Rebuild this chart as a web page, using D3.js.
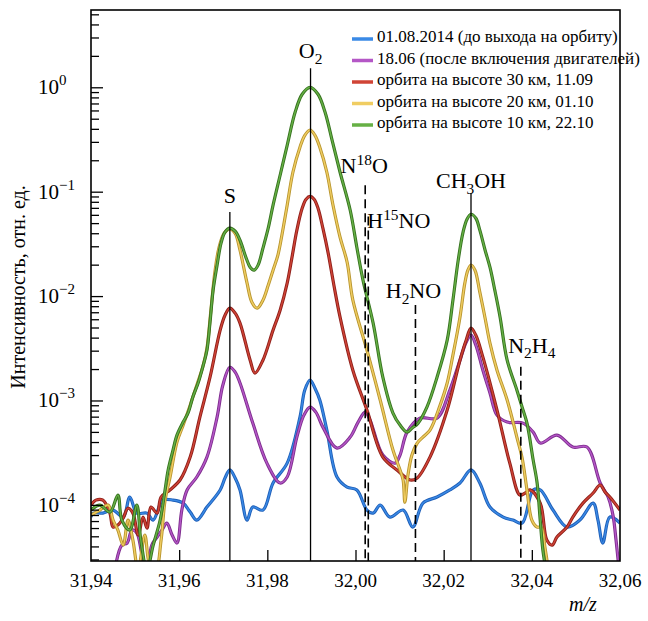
<!DOCTYPE html>
<html>
<head>
<meta charset="UTF-8">
<script src="https://cdn.jsdelivr.net/npm/d3@7"></script>
<style>
  body { margin: 0; background: #fff; }
</style>
</head>
<body>
<div id="chart"></div>
<script>
// spectra: [m/z, intensity]
var blue = [[31.9400,7.64e-5],[31.9405,8.34e-5],[31.9427,8.34e-5],[31.9450,8.92e-5],[31.9473,7.64e-5],[31.9488,1.19e-4],[31.9504,8.34e-5],[31.9527,8.34e-5],[31.9541,7.15e-5],[31.9563,1.11e-4],[31.9586,1.11e-4],[31.9609,1.04e-4],[31.9625,8.53e-5],[31.9640,7.15e-5],[31.9663,9.53e-5],[31.9693,1.39e-4],[31.9704,1.81e-4],[31.9715,2.16e-4],[31.9727,1.81e-4],[31.9738,1.39e-4],[31.9754,7.15e-5],[31.9767,9.53e-5],[31.9790,8.92e-5],[31.9813,1.62e-4],[31.9845,2.51e-4],[31.9874,6.93e-4],[31.9885,1.26e-3],[31.9897,1.57e-3],[31.9908,1.31e-3],[31.9919,1.01e-3],[31.9935,5.2e-4],[31.9958,1.85e-4],[31.9981,1.48e-4],[32.0003,1.39e-4],[32.0026,8.92e-5],[32.0040,8.34e-5],[32.0056,9.96e-5],[32.0078,7.64e-5],[32.0108,8.92e-5],[32.0130,6.13e-5],[32.0153,1.04e-4],[32.0185,1.19e-4],[32.0214,1.39e-4],[32.0237,1.62e-4],[32.0262,2.16e-4],[32.0282,1.62e-4],[32.0305,9.53e-5],[32.0335,7.64e-5],[32.0357,7.15e-5],[32.0378,6.69e-5],[32.0403,1.39e-4],[32.0419,1.39e-4],[32.0448,8.92e-5],[32.0480,6.13e-5],[32.0509,7.15e-5],[32.0539,1.04e-4],[32.0550,7.15e-5],[32.0561,4.31e-5],[32.0577,7.64e-5],[32.0600,6.69e-5]];

var purple = [[31.9454,2.38e-5],[31.9470,4.12e-5],[31.9482,4.31e-5],[31.9493,5.74e-5],[31.9504,5.37e-5],[31.9516,3.31e-5],[31.9527,2.38e-5],[31.9538,4.12e-5],[31.9550,4.92e-5],[31.9561,5.74e-5],[31.9572,6.69e-5],[31.9584,5.14e-5],[31.9595,4.31e-5],[31.9606,8.92e-5],[31.9618,1.39e-4],[31.9640,1.85e-4],[31.9663,2.87e-4],[31.9686,6.93e-4],[31.9699,1.40e-3],[31.9715,2.08e-3],[31.9727,1.87e-3],[31.9738,1.47e-3],[31.9767,6.07e-4],[31.9799,2.51e-4],[31.9829,1.62e-4],[31.9845,1.85e-4],[31.9867,4.46e-4],[31.9883,7.24e-4],[31.9897,8.63e-4],[31.9910,7.73e-4],[31.9926,5.56e-4],[31.9958,3.50e-4],[31.9988,4.46e-4],[32.0006,6.21e-4],[32.0022,7.73e-4],[32.0033,6.49e-4],[32.0062,3.0e-4],[32.0090,2.51e-4],[32.0101,3.0e-4],[32.0117,4.98e-4],[32.0146,6.78e-4],[32.0185,6.78e-4],[32.0214,1.26e-3],[32.0237,2.43e-3],[32.0251,3.62e-3],[32.0262,4.22e-3],[32.0273,3.39e-3],[32.0289,1.95e-3],[32.0305,1.18e-3],[32.0321,7.24e-4],[32.0344,6.21e-4],[32.0380,6.07e-4],[32.0403,4.98e-4],[32.0419,3.91e-4],[32.0457,4.66e-4],[32.0493,3.58e-4],[32.0525,3.58e-4],[32.0555,1.62e-4],[32.0573,1.19e-4],[32.0584,7.98e-5],[32.0591,4.6e-5],[32.0598,2.38e-5]];

var red = [[31.9400,9.96e-5],[31.9411,1.11e-4],[31.9427,1.11e-4],[31.9443,8.34e-5],[31.9450,6.13e-5],[31.9461,6.41e-5],[31.9473,7.48e-5],[31.9484,9.31e-5],[31.9495,8.34e-5],[31.9507,5.14e-5],[31.9518,7.64e-5],[31.9527,6.0e-5],[31.9536,9.53e-5],[31.9550,8.34e-5],[31.9559,1.19e-4],[31.9579,1.39e-4],[31.9602,1.73e-4],[31.9625,2.87e-4],[31.9647,6.93e-4],[31.9670,1.67e-3],[31.9693,4.72e-3],[31.9704,6.56e-3],[31.9715,7.66e-3],[31.9727,6.86e-3],[31.9738,5.51e-3],[31.9761,2.43e-3],[31.9772,1.83e-3],[31.9790,2.43e-3],[31.9813,4.72e-3],[31.9829,7.33e-3],[31.9845,0.0133],[31.9856,0.0236],[31.9867,0.0428],[31.9879,0.0694],[31.9888,0.0847],[31.9897,0.090],[31.9906,0.0847],[31.9915,0.0694],[31.9926,0.0447],[31.9938,0.0258],[31.9951,0.0127],[31.9965,6.28e-3],[31.9994,1.95e-3],[32.0026,8.09e-4],[32.0062,2.87e-4],[32.0094,2.16e-4],[32.0124,1.73e-4],[32.0140,1.81e-4],[32.0169,2.87e-4],[32.0208,8.09e-4],[32.0237,2.43e-3],[32.0251,3.78e-3],[32.0262,4.93e-3],[32.0273,4.22e-3],[32.0289,2.60e-3],[32.0321,8.09e-4],[32.0350,2.51e-4],[32.0373,1.24e-4],[32.0385,1.30e-4],[32.0396,1.39e-4],[32.0419,1.04e-4],[32.0434,4.6e-5],[32.0446,4.12e-5],[32.0457,4.92e-5],[32.0480,6.13e-5],[32.0493,7.64e-5],[32.0516,1.04e-4],[32.0539,1.30e-4],[32.0555,1.55e-4],[32.0566,1.33e-4],[32.0577,1.19e-4],[32.0600,8.92e-5]];

var yellow = [[31.9400,7.98e-5],[31.9420,8.92e-5],[31.9439,9.96e-5],[31.9450,7.15e-5],[31.9461,5.74e-5],[31.9473,4.12e-5],[31.9484,7.15e-5],[31.9495,4.6e-5],[31.9507,2.38e-5],[31.9522,5.14e-5],[31.9534,2.6e-5],[31.9547,2.38e-5],[31.9559,4.6e-5],[31.9568,1.11e-4],[31.9579,1.81e-4],[31.9595,3.99e-4],[31.9609,5.81e-4],[31.9625,9.02e-4],[31.9640,1.40e-3],[31.9654,2.13e-3],[31.9663,3.17e-3],[31.9672,7.33e-3],[31.9681,0.0169],[31.9690,0.0287],[31.9702,0.040],[31.9715,0.0437],[31.9727,0.040],[31.9738,0.0275],[31.9754,0.0133],[31.9765,8.74e-3],[31.9777,7.66e-3],[31.9790,9.14e-3],[31.9802,0.0127],[31.9813,0.0177],[31.9824,0.0247],[31.9833,0.0383],[31.9845,0.0742],[31.9858,0.1535],[31.9874,0.267],[31.9885,0.347],[31.9897,0.39],[31.9908,0.347],[31.9919,0.267],[31.9935,0.1535],[31.9949,0.0742],[31.9965,0.0366],[31.9981,0.0211],[31.9994,9.14e-3],[32.0026,3.03e-3],[32.0056,1.01e-3],[32.0085,3.35e-4],[32.0101,2.16e-4],[32.0108,1.73e-4],[32.0112,1.06e-4],[32.0119,1.93e-4],[32.0128,3.0e-4],[32.0140,3.91e-4],[32.0153,4.46e-4],[32.0169,5.2e-4],[32.0192,9.02e-4],[32.0208,1.47e-3],[32.0221,2.72e-3],[32.0237,6.28e-3],[32.0248,0.0133],[32.0255,0.0177],[32.0262,0.0198],[32.0271,0.0177],[32.0282,0.0109],[32.0294,6.14e-3],[32.0305,3.54e-3],[32.0321,1.95e-3],[32.0344,1.01e-3],[32.0366,4.46e-4],[32.0378,2.81e-4],[32.0389,1.39e-4],[32.0400,7.15e-5],[32.0412,6.13e-5],[32.0421,6.13e-5],[32.0430,3.86e-5],[32.0439,2.13e-5]];

var green = [[31.9400,8.92e-5],[31.9420,9.96e-5],[31.9443,8.53e-5],[31.9461,1.24e-4],[31.9470,7.15e-5],[31.9488,5.74e-5],[31.9504,9.96e-5],[31.9513,4.6e-5],[31.9527,2.4e-5],[31.9541,4.1e-5],[31.9557,7.2e-5],[31.9568,1.39e-4],[31.9575,2.16e-4],[31.9586,3.35e-4],[31.9595,4.66e-4],[31.9609,6.21e-4],[31.9620,7.57e-4],[31.9631,1.08e-3],[31.9643,1.47e-3],[31.9654,2.13e-3],[31.9663,3.03e-3],[31.9670,5.62e-3],[31.9677,0.0114],[31.9686,0.0198],[31.9695,0.0321],[31.9704,0.041],[31.9715,0.0447],[31.9727,0.0418],[31.9738,0.0343],[31.9752,0.0231],[31.9761,0.0189],[31.9770,0.0177],[31.9779,0.0198],[31.9790,0.0287],[31.9802,0.0447],[31.9813,0.0742],[31.9829,0.1437],[31.9845,0.278],[31.9863,0.576],[31.9879,0.857],[31.9897,1.0],[31.9915,0.857],[31.9931,0.576],[31.9947,0.31],[31.9965,0.1535],[31.9988,0.0664],[32.0003,0.0294],[32.0017,0.0142],[32.0040,5.51e-3],[32.0062,1.67e-3],[32.0085,7.57e-4],[32.0101,5.81e-4],[32.0117,4.98e-4],[32.0128,5.43e-4],[32.0142,6.07e-4],[32.0162,8.63e-4],[32.0185,1.67e-3],[32.0208,3.78e-3],[32.0221,9.14e-3],[32.0233,0.0221],[32.0244,0.041],[32.0253,0.0545],[32.0262,0.0608],[32.0273,0.0557],[32.0282,0.0428],[32.0294,0.0275],[32.0305,0.0189],[32.0316,0.0114],[32.0328,6.28e-3],[32.0344,2.43e-3],[32.0366,1.26e-3],[32.0378,8.63e-4],[32.0389,6.07e-4],[32.0403,2.69e-4],[32.0412,1.62e-4],[32.0419,7.15e-5],[32.0425,3.69e-5],[32.0434,2.13e-5]];

var seriesNames = ["01.08.2014 (до выхода на орбиту)", "18.06 (после включения двигателей)",
  "орбита на высоте 30 км, 11.09", "орбита на высоте 20 км, 01.10", "орбита на высоте 10 км, 22.10"];

var xTicks = [31.94, 31.96, 31.98, 32.00, 32.02, 32.04, 32.06];
var yMajor = [1e-4, 1e-3, 1e-2, 1e-1, 1];

// line markers: [label parts, m/z, top of the line (intensity), dashed]
var markers = [
  [[["S",""]], 31.9715, 0.064, false],
  [[["O",""],["2","sub"]], 31.9898, 1.52, false],
  [[["N",""],["18","sup"],["O",""]], 32.0022, 0.115, true],
  [[["H",""],["15","sup"],["NO",""]], 32.0029, 0.058, true],
  [[["H",""],["2","sub"],["NO",""]], 32.0136, 0.0082, true],
  [[["CH",""],["3","sub"],["OH",""]], 32.0262, 0.097, false],
  [[["N",""],["2","sub"],["H",""],["4","sub"]], 32.0375, 0.0021, true]
];

var FONT = "'Liberation Serif', 'Times New Roman', 'DejaVu Serif', serif";
var W = 648, H = 621;
var x = d3.scaleLinear().domain([31.94, 32.06]).range([91, 620]);
var y = d3.scaleLog().domain([5.5, 2.9e-5]).range([10, 561]);

var svg = d3.select("#chart").append("svg").attr("width", W).attr("height", H)
  .attr("font-family", FONT);

svg.append("defs").append("clipPath").attr("id", "clip")
  .append("rect").attr("x", 91).attr("y", 10).attr("width", 529).attr("height", 551);

function txt(xp, yp, size) {
  return svg.append("text").attr("x", xp).attr("y", yp)
    .attr("font-family", FONT).attr("font-size", size);
}

// text with sub/superscripts
function rich(t, parts, size) {
  var shift = 0;
  parts.forEach(function(p) {
    var target = p[1] == "sub" ? size * 0.25 : (p[1] == "sup" ? -size * 0.4 : 0);
    var s = t.append("tspan").text(p[0]).attr("dy", target - shift);
    if (p[1]) s.attr("font-size", size * 0.7);
    shift = target;
  });
}

// curves
var line = d3.line()
  .x(function(d) { return x(d[0]); })
  .y(function(d) { return y(d[1]); })
  .curve(d3.curveCatmullRom.alpha(0.5));

var curves = [
  [blue, "#1f5fb8", "#3a8ae6"],
  [purple, "#7e2c8e", "#b457c6"],
  [red, "#8e1f1a", "#d04436"],
  [yellow, "#b8952e", "#f0cd62"],
  [green, "#36721f", "#66b045"]
];

var plot = svg.append("g").attr("clip-path", "url(#clip)");
curves.forEach(function(c) {
  plot.append("path").attr("d", line(c[0])).attr("fill", "none")
    .attr("stroke", c[1]).attr("stroke-width", 3.2).attr("stroke-linejoin", "round");
  plot.append("path").attr("d", line(c[0])).attr("fill", "none")
    .attr("stroke", c[2]).attr("stroke-width", 1.4).attr("stroke-linejoin", "round");
});

// marker lines and labels
markers.forEach(function(m) {
  var xm = x(m[1]);
  svg.append("line").attr("x1", xm).attr("x2", xm)
    .attr("y1", y(m[2])).attr("y2", 561)
    .attr("stroke", "#000").attr("stroke-width", m[3] ? 1.6 : 1.3)
    .attr("stroke-dasharray", m[3] ? "9,5" : null);
});

var labelPos = [[0, -9, "middle"], [0, -10, "middle"], [-1, -12, "middle"], [-1, 12, "start"],
  [-2, -7, "middle"], [0, -5, "middle"], [11, -14, "middle"]];
markers.forEach(function(m, i) {
  var lp = labelPos[i];
  var t = txt(x(m[1]) + lp[0], y(m[2]) + lp[1], 22).attr("text-anchor", lp[2]);
  rich(t, m[0], 22);
});

// x axis, ticks pointing inward
var xAxis = d3.axisBottom(x).tickValues(xTicks.slice(1, 6)).tickSizeInner(-11).tickSizeOuter(0)
  .tickFormat(function() { return ""; });
svg.append("g").attr("transform", "translate(0,561)").call(xAxis)
  .call(function(g) { g.select(".domain").remove(); })
  .selectAll("line").attr("stroke", "#000").attr("stroke-width", 1.3);

xTicks.forEach(function(v) {
  txt(x(v), 587, 19).attr("text-anchor", "middle").text(v.toFixed(2).replace(".", ","));
});

// y axis: major and minor ticks inward
var yMinor = [];
for (var e = -5; e <= 0; e++) {
  for (var k = 2; k <= 9; k++) {
    var v = k * Math.pow(10, e);
    if (v < 5.5 && v > 2.9e-5) yMinor.push(v);
  }
}
svg.append("g").attr("transform", "translate(91,0)")
  .call(d3.axisLeft(y).tickValues(yMinor).tickSize(-8).tickFormat(""))
  .call(function(g) { g.select(".domain").remove(); })
  .selectAll("line").attr("stroke", "#000").attr("stroke-width", 1.3);
svg.append("g").attr("transform", "translate(91,0)")
  .call(d3.axisLeft(y).tickValues(yMajor).tickSize(-12).tickFormat(""))
  .call(function(g) { g.select(".domain").remove(); })
  .selectAll("line").attr("stroke", "#000").attr("stroke-width", 1.3);

yMajor.forEach(function(v) {
  var ex = Math.round(Math.log10(v));
  var t = txt(38, y(v) + 7, 21);
  t.append("tspan").text("10");
  t.append("tspan").attr("dy", -9).attr("font-size", 15).text(ex === 0 ? "0" : "\u2212" + (-ex));
});

// frame
svg.append("rect").attr("x", 91).attr("y", 10).attr("width", 529).attr("height", 551)
  .attr("fill", "none").attr("stroke", "#000").attr("stroke-width", 1.6);

// axis titles
txt(0, 0, 20).attr("x", null).attr("y", null)
  .attr("transform", "translate(25,287) rotate(-90)")
  .attr("text-anchor", "middle").text("Интенсивность, отн. ед.");
txt(583, 611, 20).attr("text-anchor", "middle").attr("font-style", "italic").text("m/z");

// legend
var legendColors = ["#3a8ae6", "#b457c6", "#d04436", "#f0cd62", "#66b045"];
seriesNames.forEach(function(n, i) {
  var cy = 36 + i * 21.5;
  svg.append("line").attr("x1", 352).attr("x2", 373).attr("y1", cy + 3).attr("y2", cy + 3)
    .attr("stroke", legendColors[i]).attr("stroke-width", 3.5);
  txt(377, cy + 6, 17).text(n);
});
</script>
</body>
</html>
